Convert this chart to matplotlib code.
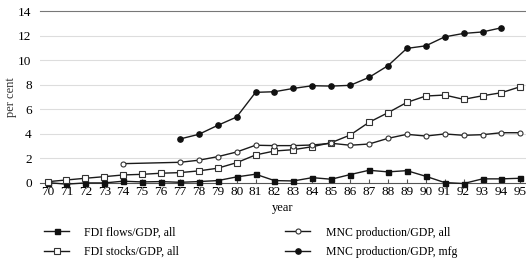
import matplotlib
matplotlib.use("Agg")
import matplotlib.pyplot as plt

plt.rcParams['font.family'] = ['Liberation Serif', 'DejaVu Serif']

# data
years = list(range(70, 96))
fdi_flows = [0.03, -0.1, 0.0, 0.0, 0.14, 0.08, 0.11, 0.05, 0.11, 0.19, 0.49, 0.71, 0.19,
             0.16, 0.43, 0.3, 0.68, 1.03, 0.9, 1.0, 0.54, 0.03, -0.05, 0.33, 0.33, 0.38]
fdi_stocks = [0.1, 0.24, 0.38, 0.51, 0.65, 0.7, 0.79, 0.84, 0.98, 1.2, 1.65, 2.28, 2.6,
              2.71, 2.95, 3.28, 3.9, 4.94, 5.72, 6.56, 7.08, 7.16, 6.81, 7.1, 7.35, 7.84]
mnc_all_years = [74] + list(range(77, 96))
mnc_all = [1.57, 1.68, 1.85, 2.14, 2.52, 3.07, 3.04, 3.04, 3.09, 3.23, 3.07, 3.17,
           3.63, 3.96, 3.82, 3.99, 3.88, 3.93, 4.09, 4.09]
mnc_mfg_years = list(range(77, 95))
mnc_mfg = [3.58, 3.96, 4.69, 5.37, 7.38, 7.43, 7.7, 7.92, 7.89, 7.95, 8.6, 9.55,
           10.96, 11.17, 11.9, 12.18, 12.3, 12.64]

fig = plt.figure(figsize=(5.26, 2.58), dpi=100)
ax = fig.add_axes([0.076, 0.291, 0.924, 0.666])

common = dict(color='#1a1a1a', lw=1.0, clip_on=False, zorder=3)
h1, = ax.plot(years, fdi_flows, marker='s', ms=3.6, mfc='#111111', mec='#111111',
              label='FDI flows/GDP, all', **common)
h2, = ax.plot(years, fdi_stocks, marker='s', ms=3.8, mfc='white', mec='#333333',
              mew=0.8, label='FDI stocks/GDP, all', **common)
h3, = ax.plot(mnc_all_years, mnc_all, marker='o', ms=3.6, mfc='white', mec='#333333',
              mew=0.8, label='MNC production/GDP, all', **common)
h4, = ax.plot(mnc_mfg_years, mnc_mfg, marker='o', ms=3.8, mfc='#111111', mec='#111111',
              label='MNC production/GDP, mfg', **common)

ax.set_xlim(69.6, 95.3)
ax.set_ylim(0, 14)
ax.set_xticks(years)
ax.set_xticklabels([str(y) for y in years])
ax.set_yticks(range(0, 15, 2))
ax.tick_params(axis='x', direction='in', length=3, labelsize=9.5, pad=2, color='#555555')
ax.tick_params(axis='y', length=0, labelsize=9.5, pad=6)

for v in range(2, 14, 2):
    ax.axhline(v, color='#dddddd', lw=0.8, zorder=1)
ax.spines['left'].set_visible(False)
ax.spines['right'].set_visible(False)
ax.spines['top'].set_color('#777777')
ax.spines['bottom'].set_color('#555555')

ax.set_xlabel('year', fontsize=9, labelpad=3)
ax.set_ylabel('per cent', fontsize=9, color='#333333')
ax.yaxis.set_label_coords(-0.048, 0.5)

fig.legend(handles=[h1, h2, h3, h4], ncol=2, loc='upper left',
           bbox_to_anchor=(0.075, 0.14), frameon=False, fontsize=8.5,
           handlelength=2.1, handletextpad=1.3, columnspacing=9.0,
           labelspacing=0.6, borderaxespad=0)

fig.savefig('out.png', dpi=100)
